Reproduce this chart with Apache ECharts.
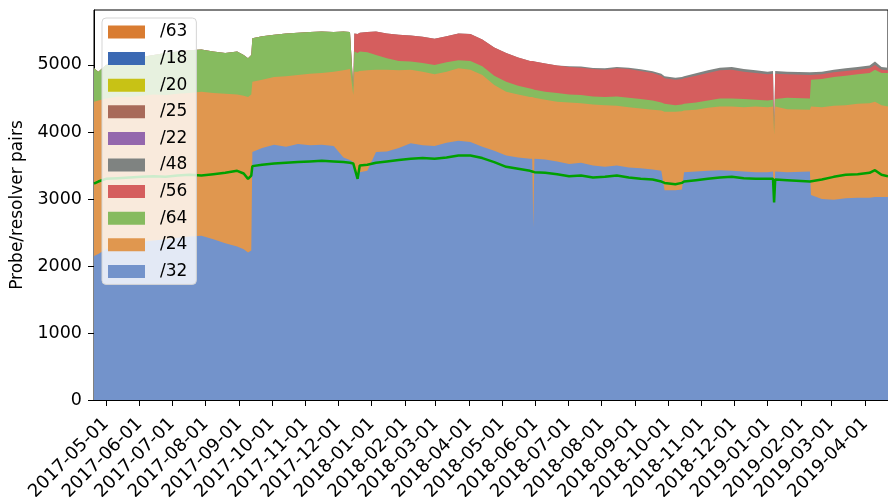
<!DOCTYPE html>
<html><head><meta charset="utf-8">
<script src="https://cdn.jsdelivr.net/npm/echarts@6/dist/echarts.min.js"></script>
<style>html,body{margin:0;padding:0;background:#fff}#c{width:888px;height:497px}</style>
</head><body><div id="c"></div>
<script>
const dates = ['2017-04-20','2017-04-24','2017-05-01','2017-05-12','2017-05-23','2017-06-03','2017-06-14','2017-06-25','2017-07-06','2017-07-17',
'2017-07-28','2017-08-08','2017-08-19','2017-08-30','2017-09-05','2017-09-09','2017-09-12','2017-09-13','2017-09-22','2017-10-03',
'2017-10-14','2017-10-25','2017-11-05','2017-11-16','2017-11-27','2017-12-06','2017-12-12','2017-12-13','2017-12-15','2017-12-16',
'2017-12-19','2017-12-21','2017-12-28','2018-01-05','2018-01-15','2018-01-26','2018-02-06','2018-02-17','2018-02-28','2018-03-11',
'2018-03-22','2018-04-02','2018-04-13','2018-04-24','2018-05-05','2018-05-16','2018-05-27','2018-05-29','2018-05-30','2018-05-31',
'2018-06-10','2018-06-21','2018-07-02','2018-07-13','2018-07-24','2018-08-04','2018-08-15','2018-08-26','2018-09-06','2018-09-17',
'2018-09-25','2018-09-28','2018-10-08','2018-10-14','2018-10-16','2018-10-27','2018-11-07','2018-11-18','2018-11-29','2018-12-10',
'2018-12-21','2019-01-01','2019-01-06','2019-01-07','2019-01-08','2019-01-19','2019-02-09','2019-02-10','2019-02-20','2019-03-03',
'2019-03-14','2019-03-25','2019-04-05','2019-04-10','2019-04-16','2019-04-22'];

const s32 = [2150,2180,2250,2300,2330,2360,2380,2400,2420,2440, 2450,2400,2340,2290,2250,2200,2230,3700,3760,3810,
3780,3820,3800,3810,3790,3620,3580,3580,3550,3560, 3300,3400,3420,3700,3710,3760,3830,3800,3790,3840,
3870,3850,3780,3720,3650,3620,3600,3600,2570,3600, 3590,3560,3520,3540,3500,3480,3500,3470,3460,3440,
3420,3130,3130,3140,3400,3410,3420,3430,3420,3410, 3400,3400,3410,2950,3410,3400,3410,3060,3000,2990,
3010,3020,3020,3030,3030,3030];

const s24 = [2300,2290,2250,2230,2190,2180,2180,2150,2150,2140, 2150,2180,2230,2270,2290,2320,2330,1050,1020,1010,
1050,1030,1070,1070,1110,1300,1360,1350,1000,1340, 1600,1510,1500,1230,1220,1160,1100,1100,1070,1060,
1080,1080,1070,980,950,940,920,920,1940,910, 890,890,920,890,910,920,890,900,890,890,
900,1170,1170,1170,920,920,940,950,960,960, 980,970,970,1010,970,940,920,1320,1370,1400,
1390,1400,1410,1420,1370,1350];

const s64 = [500,430,500,520,560,580,590,630,630,640, 630,620,610,640,610,580,590,650,650,630,
640,630,620,620,590,580,550,270,100,300, 280,290,270,220,170,140,120,130,140,140,
120,130,130,140,150,130,130,120,120,120, 120,130,120,120,120,120,140,140,140,140,
120,120,100,100,100,110,110,120,120,120, 100,100,100,30,110,170,170,400,420,430,
440,440,450,480,480,500];

const s56 = [0,0,0,0,0,0,0,0,0,0, 0,0,0,0,0,0,0,0,0,0,
0,0,0,0,0,0,0,280,30,270, 280,280,300,350,370,390,390,390,390,390,
400,400,400,420,430,420,410,420,420,420, 420,410,410,410,410,410,420,430,420,410,
400,380,380,380,380,400,410,420,430,410, 400,390,390,10,380,350,350,70,70,70,
70,70,70,70,50,40];

const s48 = [0,0,0,0,0,0,0,0,0,0, 0,0,0,0,0,0,0,0,0,0,
0,0,0,0,0,0,0,0,0,0, 0,0,0,0,0,0,0,0,0,0,
0,0,0,0,0,0,0,0,0,0, 0,0,10,15,15,20,20,20,25,25,
30,30,30,30,30,35,40,40,40,40, 40,40,40,5,40,40,40,40,40,40,
40,40,40,50,40,40];

const s22 = [], s25 = [], s20 = [], s18 = [], s63 = [];

const greenLine = [3230,3260,3300,3310,3320,3330,3340,3330,3350,3360,
3350,3370,3390,3420,3380,3300,3350,3490,3510,3530,
3540,3550,3560,3570,3560,3550,3540,3540,3530,3530,
3300,3500,3510,3540,3560,3580,3600,3610,3600,3620,
3650,3650,3610,3550,3480,3450,3420,3410,3400,3400,
3390,3370,3340,3350,3320,3330,3350,3320,3300,3290,
3260,3240,3220,3240,3260,3280,3300,3320,3330,3310,
3300,3300,3300,2950,3290,3280,3260,3250,3290,3330,
3360,3370,3390,3430,3360,3340];

const tickLabels = ['2017-05-01','2017-06-01','2017-07-01','2017-08-01','2017-09-01','2017-10-01','2017-11-01','2017-12-01',
'2018-01-01','2018-02-01','2018-03-01','2018-04-01','2018-05-01','2018-06-01','2018-07-01','2018-08-01','2018-09-01',
'2018-10-01','2018-11-01','2018-12-01','2019-01-01','2019-02-01','2019-03-01','2019-04-01'];
const yTicks = [0,1000,2000,3000,4000,5000];
const legendOrder = ['/63','/18','/20','/25','/22','/48','/56','/64','/24','/32'];

const DAY = 86400000;
function ts(s){const p=s.split('-');return Date.UTC(+p[0],+p[1]-1,+p[2]);}
function pad(n){return n<10?'0'+n:''+n;}
function fmt(v){const d=new Date(Math.round(v/DAY)*DAY);return d.getUTCFullYear()+'-'+pad(d.getUTCMonth()+1)+'-'+pad(d.getUTCDate());}
const tickTs = tickLabels.map(ts);

const FONT = 'DejaVu Sans';
// bottom-to-top stacking order
const stackDefs = [
  ['/32', s32, '#7393cb'], ['/24', s24, '#e0974f'], ['/64', s64, '#86bb5f'], ['/56', s56, '#d55e5e'],
  ['/48', s48, '#7f8381'], ['/22', s22, '#9467ad'], ['/25', s25, '#a86a5a'], ['/20', s20, '#c8c215'],
  ['/18', s18, '#3b69b3'], ['/63', s63, '#d97c31']
];
// cumulative tops (stack table built from the series arrays)
const running = dates.map(() => 0);
const layers = stackDefs.map(([name, arr, color]) => {
  let data = [];
  if (arr.length) {
    data = arr.map((v, i) => { running[i] += v; return [ts(dates[i]), running[i]]; });
  }
  return {name, color, data};
});
// draw top layer first so lower layers paint over it
const series = layers.slice().reverse().map((L, k) => ({
  name: L.name, type:'line', data: L.data, symbol:'none', showSymbol:false,
  lineStyle:{width:0, color:L.color}, itemStyle:{color:L.color}, areaStyle:{color:L.color, opacity:1, origin:'start'},
  emphasis:{disabled:true}, z:2 + k * 0.01, silent:true
}));
series.push({
  name:'line', type:'line', data: greenLine.map((v,i)=>[ts(dates[i]), v]), symbol:'none', showSymbol:false,
  lineStyle:{color:'#00a000', width:2.5}, itemStyle:{color:'#00a000'}, emphasis:{disabled:true}, z:5, silent:true
});

const chart = echarts.init(document.getElementById('c'), null, {renderer:'canvas'});
chart.setOption({
  animation:false,
  grid:{left:94, right:0, top:10, bottom:97, show:true, borderColor:'#000', borderWidth:1, backgroundColor:'transparent',
        containLabel:false, outerBoundsMode:'none'},
  legend:{
    data: legendOrder, orient:'vertical', left:102, top:18, icon:'rect', itemWidth:37, itemHeight:13, itemGap:6.6,
    padding:[4,9,3,6], backgroundColor:'rgba(255,255,255,0.8)', borderColor:'#d5d5d5', borderWidth:1, borderRadius:4,
    itemStyle:{borderWidth:0}, selectedMode:false, z:10,
    textStyle:{fontSize:17, fontFamily:FONT, color:'#000', lineHeight:20, padding:[0,0,0,10]}
  },
  xAxis:{
    type:'value', min: ts('2017-04-20'), max: ts('2019-04-22'), scale:true,
    axisLine:{lineStyle:{color:'#000', width:1}},
    axisTick:{show:true, customValues: tickTs, length:6, lineStyle:{color:'#000'}},
    axisLabel:{customValues: tickTs, formatter: v => fmt(v), rotate:45, fontSize:18, fontFamily:FONT, color:'#000', margin:21},
    splitLine:{show:false}
  },
  yAxis:{
    type:'value', min:0, max:5820,
    axisLine:{show:true, lineStyle:{color:'#000', width:1}},
    axisTick:{show:true, customValues: yTicks, length:6, lineStyle:{color:'#000'}},
    axisLabel:{customValues: yTicks, formatter: v => String(v), fontSize:17.5, fontFamily:FONT, color:'#000', margin:12},
    splitLine:{show:false},
    name:'Probe/resolver pairs', nameLocation:'middle', nameGap:64,
    nameTextStyle:{fontSize:17, fontFamily:FONT, color:'#000'}
  },
  series
});
</script></body></html>
